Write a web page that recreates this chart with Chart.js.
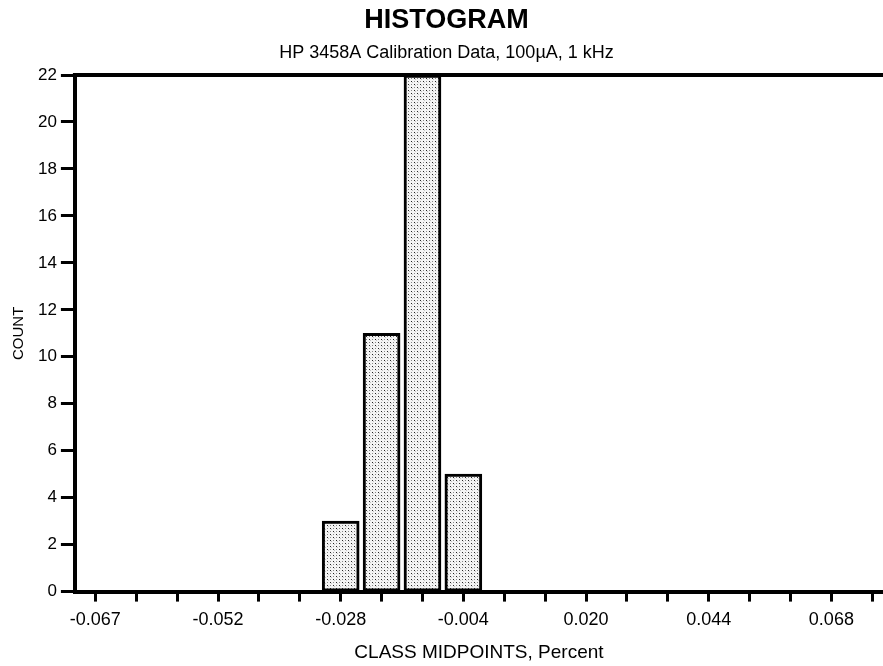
<!DOCTYPE html>
<html>
<head>
<meta charset="utf-8">
<script src="https://cdn.jsdelivr.net/npm/chart.js@4.4.1/dist/chart.umd.min.js"></script>
<style>
  html, body { margin: 0; padding: 0; background: #fff; overflow: hidden; }
  #wrap { width: 883px; height: 666px; position: relative; }
</style>
</head>
<body>
<div id="wrap"><canvas id="c"></canvas></div>
<script>
// ---- data ----
const classMidpoints = [-0.076, -0.068, -0.060, -0.052, -0.044, -0.036, -0.028, -0.020, -0.012, -0.004,
                        0.004, 0.012, 0.020, 0.028, 0.036, 0.044, 0.052, 0.060, 0.068, 0.076];
const counts = [null, null, null, null, null, null, 3, 11, 22, 5,
                null, null, null, null, null, null, null, null, null, null];
const xTickLabels = ['-0.067', '', '', '-0.052', '', '', '-0.028', '', '', '-0.004',
                     '', '', '0.020', '', '', '0.044', '', '', '0.068', ''];
const yTicks = [0, 2, 4, 6, 8, 10, 12, 14, 16, 18, 20, 22];

const titleText = 'HISTOGRAM';
const subtitleText = 'HP 3458A Calibration Data, 100µA, 1 kHz';
const xTitle = 'CLASS MIDPOINTS, Percent';
const yTitle = 'COUNT';

// stipple fill pattern
function makePattern() {
  const p = document.createElement('canvas');
  p.width = 6; p.height = 6;
  const g = p.getContext('2d');
  g.fillStyle = '#f4f4f4'; g.fillRect(0, 0, 6, 6);
  g.fillStyle = '#222'; g.fillRect(0, 0, 1, 1); g.fillRect(3, 3, 1, 1);
  g.fillStyle = '#8a8a8a'; g.fillRect(3, 0, 1, 1); g.fillRect(0, 3, 1, 1);
  g.fillStyle = '#c4c4c4'; g.fillRect(1, 1, 1, 1); g.fillRect(4, 4, 1, 1);
  return document.getElementById('c').getContext('2d').createPattern(p, 'repeat');
}

const FONT = "'Liberation Sans', Arial, Helvetica, sans-serif";

const topFrame = {
  id: 'topFrame',
  afterDraw(chart) {
    const { ctx, chartArea } = chart;
    ctx.save();
    ctx.strokeStyle = '#000';
    ctx.lineWidth = 4;
    ctx.beginPath();
    ctx.moveTo(chartArea.left - 2, chartArea.top);
    ctx.lineTo(chartArea.right, chartArea.top);
    ctx.stroke();
    ctx.restore();
  }
};

const points = classMidpoints.map((x, i) => ({ x: x, y: counts[i] }));

new Chart(document.getElementById('c'), {
  type: 'bar',
  data: {
    datasets: [{
      data: points,
      backgroundColor: makePattern(),
      borderColor: '#000',
      borderWidth: 3,
      borderSkipped: false,
      barThickness: 37
    }]
  },
  options: {
    responsive: true,
    maintainAspectRatio: false,
    animation: false,
    layout: { padding: { left: 10, right: 0, top: 0, bottom: 0 } },
    plugins: {
      legend: { display: false },
      tooltip: { enabled: false },
      title: {
        display: true, text: titleText, color: '#000',
        font: { family: FONT, size: 27, weight: 'bold' },
        padding: { top: 4, bottom: 6 }
      },
      subtitle: {
        display: true, text: subtitleText, color: '#000',
        font: { family: FONT, size: 18 },
        padding: { top: 0, bottom: 11 }
      }
    },
    scales: {
      x: {
        type: 'linear',
        offset: false,
        min: -0.080,
        max: 0.0781,
        afterBuildTicks(scale) { scale.ticks = classMidpoints.map(v => ({ value: v })); },
        ticks: {
          autoSkip: false, maxRotation: 0, color: '#000', padding: 8,
          font: { family: FONT, size: 18 },
          callback(value, index) { return xTickLabels[index]; }
        },
        grid: { display: true, offset: false, drawOnChartArea: false, tickLength: 10, tickWidth: 3, tickColor: '#000' },
        border: { display: true, color: '#000', width: 4 },
        title: {
          display: true, text: xTitle, color: '#000',
          font: { family: FONT, size: 19 },
          padding: { top: 2, bottom: 2 }
        }
      },
      y: {
        min: 0, max: 22,
        afterBuildTicks(scale) { scale.ticks = yTicks.map(v => ({ value: v })); },
        ticks: { color: '#000', padding: 4, font: { family: FONT, size: 17 } },
        grid: { display: true, drawOnChartArea: false, tickLength: 14, tickWidth: 3, tickColor: '#000' },
        border: { display: true, color: '#000', width: 4 },
        title: {
          display: true, text: yTitle, color: '#000',
          font: { family: FONT, size: 15 },
          padding: { top: 0, bottom: 6 }
        }
      }
    }
  },
  plugins: [topFrame]
});
</script>
</body>
</html>
